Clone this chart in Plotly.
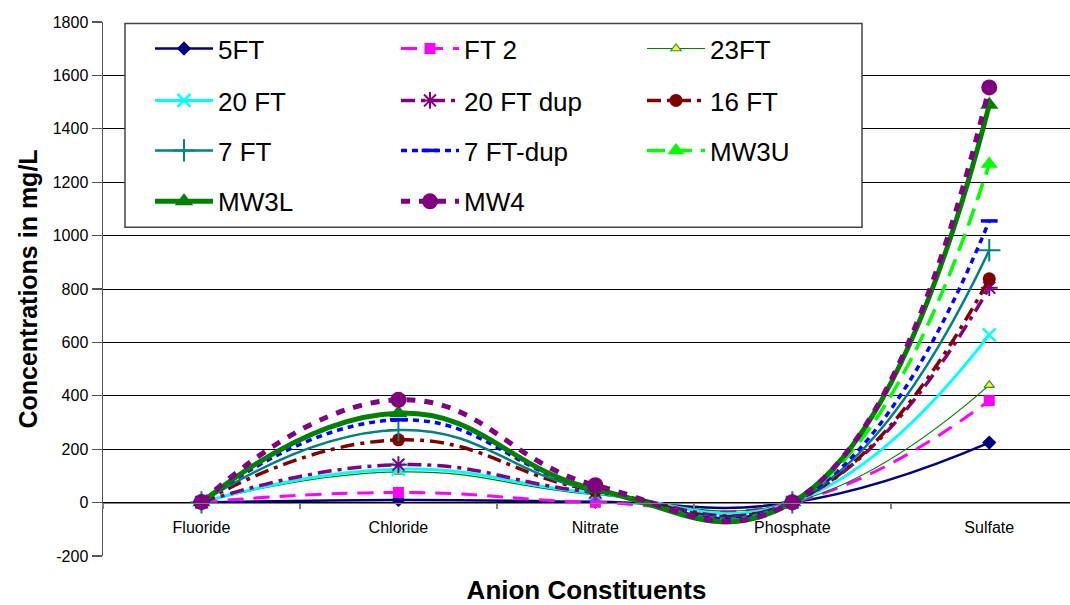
import plotly.graph_objects as go

categories = ["Fluoride", "Chloride", "Nitrate", "Phosphate", "Sulfate"]

s_5ft = [0.5, 10, 3, 0.5, 225]
s_ft2 = [1, 38, 1, 0.5, 382]
s_23ft = [1, 115, 30, 0.5, 440]
s_20ft = [1, 125, 35, 1, 628]
s_20ftdup = [1, 142, 38, 1, 805]
s_16ft = [1, 235, 45, 1, 838]
s_7ft = [1, 272, 45, 1, 945]
s_7ftdup = [1, 310, 50, 1, 1055]
s_mw3u = [1, 335, 50, 1, 1268]
s_mw3l = [1, 335, 50, 1, 1490]
s_mw4 = [2, 385, 65, 1, 1555]

y_ticks = [-200, 0, 200, 400, 600, 800, 1000, 1200, 1400, 1600, 1800]
y_tick_labels = [str(v) for v in y_ticks]

FONT = "Arial, Liberation Sans, sans-serif"

# plot-area pixel geometry
L, R, T, B = 103, 1070, 21.5, 556
PW, PH = R - L, B - T


def px2x(px):
    return (px - L) / PW


def px2y(py):
    return (B - py) / PH


series = [
    # name, values, color, width, dash, symbol, size, mcolor, mline_color, mline_w, legend
    ("5FT", s_5ft, "#000080", 2.5, "solid", "diamond", 11, "#000080", "#000080", 0, "legend"),
    ("FT 2", s_ft2, "#FF00FF", 3, "16px,10px", "square", 11, "#FF00FF", "#FF00FF", 0, "legend"),
    ("23FT", s_23ft, "#008000", 1.2, "solid", "triangle-up", 9, "#FFFF00", "#2E8B57", 1.2, "legend"),
    ("20 FT", s_20ft, "#00FFFF", 3, "solid", "x-thin-open", 13, "#00FFFF", "#00FFFF", 2.5, "legend2"),
    ("20 FT dup", s_20ftdup, "#800080", 3.5, "14px,6px,4px,6px", "asterisk-open", 14, "#800080", "#800080", 2, "legend2"),
    ("16 FT", s_16ft, "#800000", 3.5, "14px,6px,4px,6px", "circle", 13, "#800000", "#800000", 0, "legend2"),
    ("7 FT", s_7ft, "#008080", 2.5, "solid", "cross-thin-open", 16, "#008080", "#008080", 2, "legend3"),
    ("7 FT-dup", s_7ftdup, "#0000FF", 3.5, "6px,5px", "line-ew-open", 12, "#0000FF", "#0000FF", 3.5, "legend3"),
    ("MW3U", s_mw3u, "#00FF00", 3.5, "18px,9px", "triangle-up", 15, "#00FF00", "#00FF00", 0, "legend3"),
    ("MW3L", s_mw3l, "#008000", 5, "solid", "triangle-up", 16, "#008000", "#008000", 0, "legend4"),
    ("MW4", s_mw4, "#800080", 5, "9px,9px", "circle", 16, "#800080", "#800080", 0, "legend4"),
]

fig = go.Figure()
for name, vals, col, w, dash, sym, size, mcol, mlc, mlw, leg in series:
    fig.add_trace(go.Scatter(
        x=categories, y=vals, name=name, mode="lines+markers",
        line=dict(color=col, width=w, dash=dash, shape="spline", smoothing=1.3),
        marker=dict(symbol=sym, size=size, color=mcol, line=dict(color=mlc, width=mlw)),
        legend=leg, cliponaxis=False,
    ))

# legend rows
row_centers = [48, 100, 150, 201]
leg_font = 26
item_h = leg_font * 1.3 + 3
legend_common = dict(
    orientation="h", xanchor="left", yanchor="top",
    font=dict(family=FONT, size=leg_font, color="black"),
    bgcolor="rgba(0,0,0,0)", borderwidth=0,
    itemwidth=58, entrywidth=173, traceorder="normal",
    itemclick=False, itemdoubleclick=False,
)
legend_layout = {}
for i, key in enumerate(["legend", "legend2", "legend3", "legend4"]):
    top = row_centers[i] - 5 - item_h / 2
    legend_layout[key] = dict(x=px2x(150), y=px2y(top), **legend_common)

fig.update_layout(
    width=1070, height=605,
    margin=dict(l=L, r=1070 - R, t=T, b=605 - B, pad=0, autoexpand=False),
    paper_bgcolor="white", plot_bgcolor="white",
    font=dict(family=FONT, color="black"),
    showlegend=True,
    **legend_layout,
    xaxis=dict(
        type="category", range=[-0.5, 4.41],
        anchor="free", position=0.1, automargin=False,
        showline=True, linecolor="#808080", linewidth=1.5,
        ticks="outside", tickson="boundaries", ticklen=5, tickcolor="#808080", tickwidth=1.5,
        ticklabelstandoff=10,
        showgrid=False, zeroline=False,
        tickfont=dict(family=FONT, size=16, color="black"),
        title=dict(text="<b>Anion Constituents</b>", font=dict(family=FONT, size=26, color="black"), standoff=60),
    ),
    yaxis=dict(
        range=[-200, 1800], tickvals=y_ticks, ticktext=y_tick_labels,
        automargin=False,
        showline=True, linecolor="#555555", linewidth=1.5,
        ticks="outside", ticklen=10, tickcolor="#555555", tickwidth=1.2,
        showgrid=True, gridcolor="#000000", gridwidth=1,
        zeroline=False,
        tickfont=dict(family=FONT, size=16, color="black"),
        title=dict(text="<b>Concentrations in mg/L</b>", font=dict(family=FONT, size=25, color="black"), standoff=8),
    ),
    shapes=[
        dict(type="rect", xref="paper", yref="paper", layer="above",
             x0=px2x(125), x1=px2x(862), y0=px2y(227), y1=px2y(23),
             fillcolor="white", line=dict(color="#444444", width=1.5)),
    ],
)

fig.write_html(
    "out.html",
    config={"displayModeBar": False, "staticPlot": True},
    post_script="document.body.style.margin='0px';document.body.style.overflow='hidden';",
)
